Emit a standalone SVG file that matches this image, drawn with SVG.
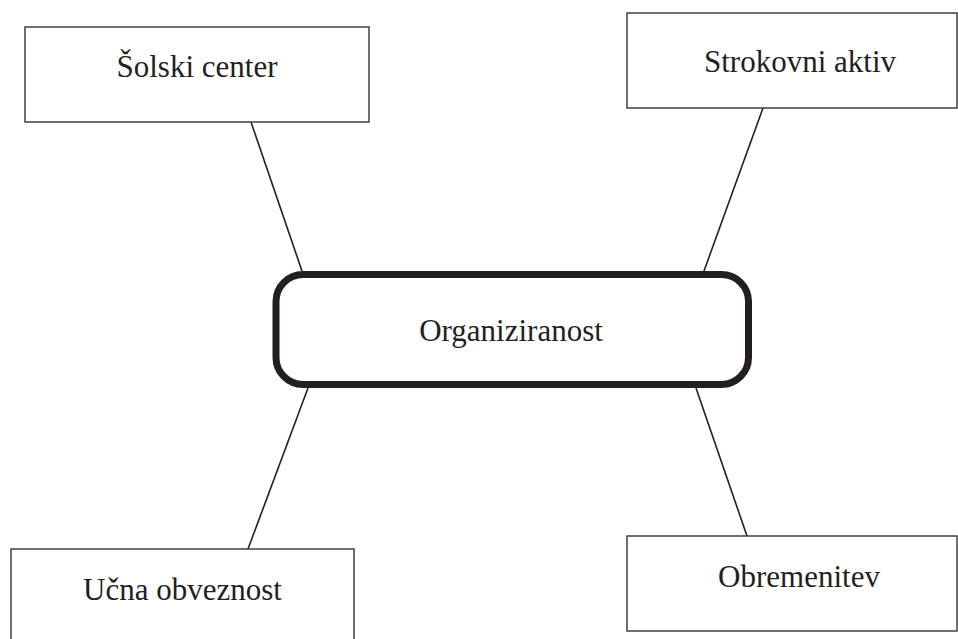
<svg xmlns="http://www.w3.org/2000/svg" width="958" height="639" viewBox="0 0 958 639">
  <style>
    .box { fill: #ffffff; stroke: #404040; stroke-width: 1.5; }
    .hub { fill: #ffffff; stroke: #231f20; stroke-width: 7; }
    .link { stroke: #231f20; stroke-width: 1.6; fill: none; }
    .label { font-family: "Liberation Serif", "Times New Roman", serif; font-size: 31px; fill: #231f20; text-anchor: middle; }
  </style>
  <rect width="958" height="639" fill="#ffffff"/>

  <!-- connectors -->
  <g id="connectors">
    <line class="link" x1="251" y1="122" x2="302" y2="271"/>
    <line class="link" x1="763" y1="108" x2="704" y2="271"/>
    <line class="link" x1="308" y1="388" x2="248" y2="549"/>
    <line class="link" x1="696" y1="388" x2="747" y2="536"/>
  </g>

  <g id="node-solski-center">
    <rect class="box" x="25" y="27" width="344" height="95"/>
    <text class="label" x="197" y="77">Šolski center</text>
  </g>

  <g id="node-strokovni-aktiv">
    <rect class="box" x="627" y="13" width="330" height="95"/>
    <text class="label" x="800" y="72">Strokovni aktiv</text>
  </g>

  <g id="node-organiziranost">
    <rect class="hub" x="276" y="274.5" width="472.5" height="110" rx="27" ry="27"/>
    <text class="label" x="511" y="341">Organiziranost</text>
  </g>

  <g id="node-ucna-obveznost">
    <rect class="box" x="11" y="549" width="343" height="100"/>
    <text class="label" x="182.5" y="600">Učna obveznost</text>
  </g>

  <g id="node-obremenitev">
    <rect class="box" x="627" y="536" width="330" height="95"/>
    <text class="label" x="799" y="587">Obremenitev</text>
  </g>
</svg>
